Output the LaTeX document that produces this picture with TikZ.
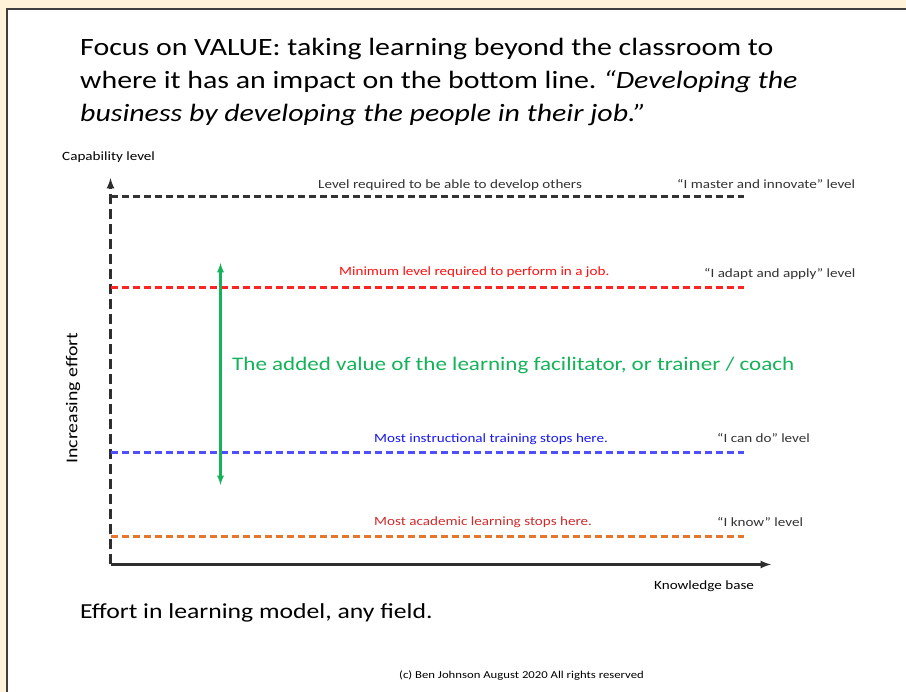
\documentclass[tikz,border=0pt]{standalone}
\usepackage{fontspec}
\setmainfont{Carlito}[FakeStretch=1.2]

\definecolor{pagecream}{HTML}{FFF3D9}
\definecolor{framegray}{HTML}{3F3F3F}
\definecolor{axisgray}{HTML}{2E2E2E}
\definecolor{levelblack}{HTML}{333333}
\definecolor{levelred}{HTML}{FF2424}
\definecolor{levelblue}{HTML}{4F4FFF}
\definecolor{levelorange}{HTML}{E4762E}
\definecolor{textred}{HTML}{FF1010}
\definecolor{textblue}{HTML}{1818F0}
\definecolor{textcrimson}{HTML}{CF2B2B}
\definecolor{valuegreen}{HTML}{14B35A}

\begin{document}
\frenchspacing
\begin{tikzpicture}[x=1pt, y=-1pt,
    levelline/.style={draw=#1, dash pattern=on 7pt off 4pt, line width=2.3pt},
    small/.style={anchor=base west, inner sep=0pt, font=\fontsize{12.6}{14}\selectfont},
    big/.style={anchor=base west, inner sep=0pt, font=\fontsize{24.9}{30}\selectfont}]
    % Page and slide frame
    \clip (0, 0) rectangle (906, 692);
    \fill[pagecream] (0, 0) rectangle (906, 692);
    \draw[framegray, line width=2.5pt, fill=white] (7, 9) rectangle (930, 720);

    % Heading
    \node[big] (head1) at (80, 56) {Focus on VALUE: taking learning beyond the classroom to};
    \node[big] (head2) at (80, 89) {where it has an impact on the bottom line. \textit{“Developing the}};
    \node[big] (head3) at (80, 121.5) {\textit{business by developing the people in their job.”}};

    % Axes
    \coordinate (origin) at (110.5, 564.5);
    \coordinate (ytop) at (110.5, 178);
    \coordinate (xend) at (771, 564.5);
    \draw[axisgray, line width=2.5pt, dash pattern=on 10pt off 5pt, ->, >=latex] (origin) -- (ytop);
    \draw[axisgray, line width=2.5pt, ->, >=latex] (origin) -- (xend);
    \node[small] (ylabel) at (62, 161) {Capability level};
    \node[small] (xlabel) at (654, 590) {Knowledge base};
    \node[rotate=90, font=\fontsize{16.5}{18}\selectfont] (effort) at (73, 398) {Increasing effort};

    % Levels
    \draw[levelline=levelblack] (110.5, 196.5) -- (744, 196.5);
    \draw[levelline=levelred] (110.5, 287.5) -- (744, 287.5);
    \draw[levelline=levelblue] (110.5, 452.5) -- (744, 452.5);
    \draw[levelline=levelorange] (110.5, 536.5) -- (744, 536.5);

    \node[small, levelblack] (develop) at (318, 189) {Level required to be able to develop others};
    \node[small, levelblack] (master) at (677, 189) {“I master and innovate” level};
    \node[small, textred] (minimum) at (339, 276) {Minimum level required to perform in a job.};
    \node[small, levelblack] (adapt) at (704, 278) {“I adapt and apply” level};
    \node[small, textblue] (instruct) at (374, 443) {Most instructional training stops here.};
    \node[small, levelblack] (cando) at (717, 443) {“I can do” level};
    \node[small, textcrimson] (academic) at (374, 526) {Most academic learning stops here.};
    \node[small, levelblack] (know) at (717, 527) {“I know” level};

    % Added value
    \coordinate (vtop) at (220.5, 263);
    \coordinate (vbot) at (220.5, 485);
    \draw[valuegreen, line width=2.2pt, <->, >=latex] (vbot) -- (vtop);
    \node[anchor=base west, inner sep=0pt, valuegreen, font=\fontsize{19.2}{21}\selectfont] (value) at (232, 371)
        {The added value of the learning facilitator, or trainer / coach};

    % Footer
    \node[anchor=base west, inner sep=0pt, font=\fontsize{21.4}{24}\selectfont] (model) at (80, 619) {Effort in learning model, any field.};
    \node[anchor=base west, inner sep=0pt, font=\fontsize{10.6}{12}\selectfont] (copy) at (399, 678) {(c) Ben Johnson August 2020 All rights reserved};
\end{tikzpicture}
\end{document}
